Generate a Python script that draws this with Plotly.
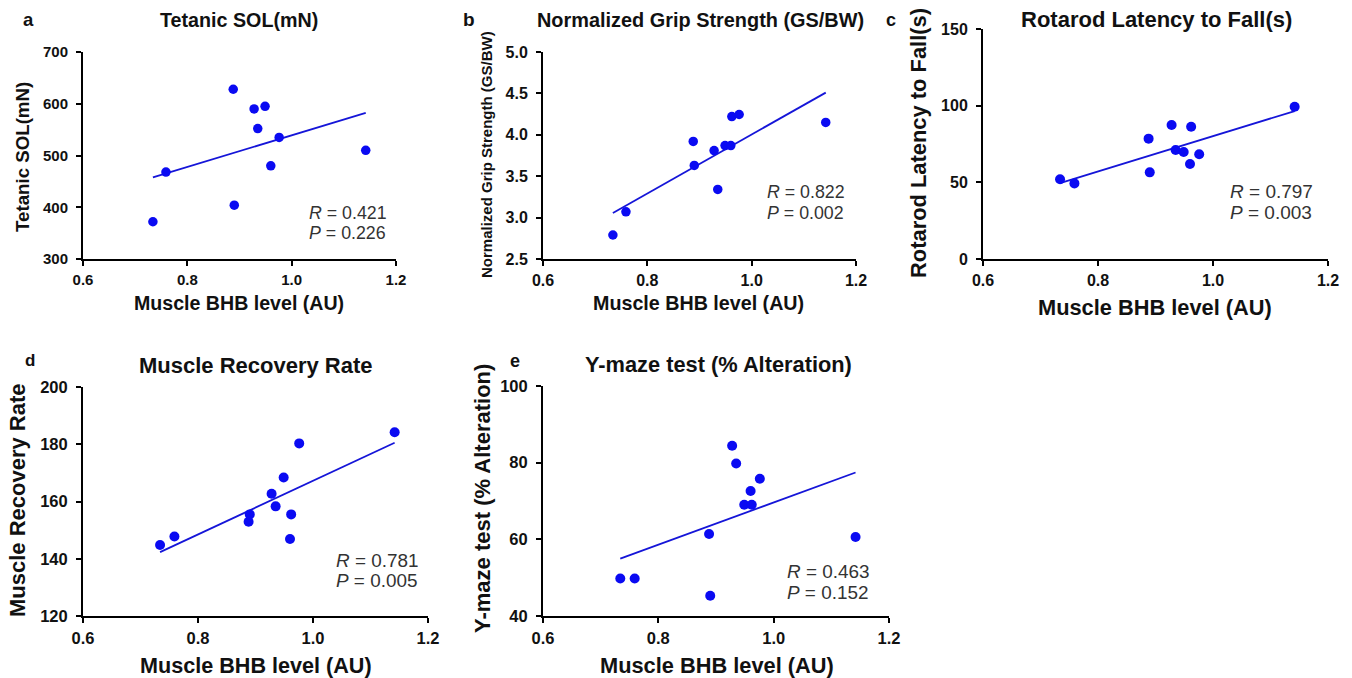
import numpy as np
import plotly.graph_objects as go

# ---------------- data ----------------
bhb = [0.734, 0.759, 0.888, 0.890, 0.928, 0.935, 0.949, 0.960, 0.962, 0.976, 1.142]
tetanic_sol = [372, 468, 628, 404, 590, 552, 595, 480, None, 535, 510]
grip_strength = [2.79, 3.07, 3.92, 3.63, 3.81, 3.34, 3.87, 3.87, 4.22, 4.245, 4.15]
rotarod = [52.0, 49.3, 78.5, 56.5, 87.4, 71.1, 69.8, 62.0, 86.3, 68.3, 99.3]
recovery = [144.8, 147.8, 152.9, 155.5, 162.7, 158.3, 168.4, 146.9, 155.5, 180.3, 184.2]
ymaze = [49.8, 49.8, 61.4, 45.3, 84.4, 79.8, 69.0, 72.6, 69.0, 75.8, 60.6]

series = [tetanic_sol, grip_strength, rotarod, recovery, ymaze]
panel_letters = ["a", "b", "c", "d", "e"]
panel_titles = ["Tetanic SOL(mN)", "Normalized Grip Strength (GS/BW)",
                "Rotarod Latency to Fall(s)", "Muscle Recovery Rate",
                "Y-maze test (% Alteration)"]
y_titles = ["Tetanic SOL(mN)", "Normalized Grip Strength (GS/BW)",
            "Rotarod Latency to Fall(s)", "Muscle Recovery Rate",
            "Y-maze test (% Alteration)"]
x_title = "Muscle BHB level (AU)"
r_values = ["0.421", "0.822", "0.797", "0.781", "0.463"]
p_values = ["0.226", "0.002", "0.003", "0.005", "0.152"]
y_ranges = [[300, 700], [2.5, 5.0], [0, 150], [120, 200], [40, 100]]
y_tickvals = [[300, 400, 500, 600, 700],
              [2.5, 3.0, 3.5, 4.0, 4.5, 5.0],
              [0, 50, 100, 150],
              [120, 140, 160, 180, 200],
              [40, 60, 80, 100]]
y_ticklabels = [["300", "400", "500", "600", "700"],
                ["2.5", "3.0", "3.5", "4.0", "4.5", "5.0"],
                ["0", "50", "100", "150"],
                ["120", "140", "160", "180", "200"],
                ["40", "60", "80", "100"]]
x_range = [0.6, 1.2]
x_tickvals = [0.6, 0.8, 1.0, 1.2]
x_ticklabels = ["0.6", "0.8", "1.0", "1.2"]

# ---------------- layout (pixels) ----------------
W, H = 1352, 678
# plot boxes: x0, x1, y_top, y_bottom
boxes = [(83, 396, 52, 259), (543, 856, 52, 259), (983, 1328, 29, 259),
         (83, 428, 387, 616), (543, 889, 386, 616)]
letter_pos = [(29, 19), (469, 20), (891, 20), (30, 360), (515, 361)]
letter_size = [18.5, 19, 18, 17, 18]
title_pos = [(239, 20), (700, 20), (1156, 20), (256, 365), (718, 364)]
title_size = [19.7, 19.9, 22, 22, 21.8]
xt_pos = [(239, 303), (699, 303), (1155, 307), (256, 665), (717, 665)]
xt_size = [19.6, 19.7, 21.8, 21.6, 21.8]
yt_pos = [(22, 157), (487, 155), (918, 143), (17, 500), (482, 499)]
yt_size = [18.7, 15, 21.9, 22, 22]
tick_size = [15, 16, 16, 16.5, 16.5]
marker_size = [9.5, 9.5, 10, 10, 10]
rp_size = [17.8, 17.8, 19, 18.9, 18.9]
rp_pos = [(307, 212.5, 232.5), (765, 192.5, 212.5), (1228, 191.5, 213),
          (334, 560, 580), (785, 571, 592.5)]

def px(x):
    return x / W

def py(y):
    return 1 - y / H

FONT = "Arial, Liberation Sans, Helvetica, sans-serif"
BLUE = "#0a0af2"
LINE_BLUE = "#1515d8"

fig = go.Figure()
annotations = []

for i, ys in enumerate(series):
    n = i + 1
    xa = "x" if n == 1 else f"x{n}"
    ya = "y" if n == 1 else f"y{n}"
    xs_valid = [x for x, y in zip(bhb, ys) if y is not None]
    ys_valid = [y for y in ys if y is not None]

    # regression line from data
    slope, intercept = np.polyfit(xs_valid, ys_valid, 1)
    lx = np.array([min(xs_valid), max(xs_valid)])
    fig.add_trace(go.Scatter(x=lx, y=slope * lx + intercept, mode="lines",
                             line=dict(color=LINE_BLUE, width=1.8),
                             xaxis=xa, yaxis=ya, showlegend=False, hoverinfo="skip"))
    fig.add_trace(go.Scatter(x=xs_valid, y=ys_valid, mode="markers",
                             marker=dict(color=BLUE, size=marker_size[i], line=dict(width=0)),
                             xaxis=xa, yaxis=ya, showlegend=False, cliponaxis=False))

    x0, x1, yt, yb = boxes[i]
    axis_common = dict(showgrid=False, zeroline=False, showline=True, linecolor="black",
                       linewidth=2, ticks="outside", ticklen=5, tickwidth=2, tickcolor="black",
                       automargin=False,
                       tickfont=dict(family=FONT, size=tick_size[i], color="#111", weight="bold"))
    fig.update_layout(**{
        ("xaxis" if n == 1 else f"xaxis{n}"): dict(
            domain=[px(x0), px(x1)], range=x_range, tickvals=x_tickvals,
            ticktext=[f"<b>{t}</b>" for t in x_ticklabels], ticklabelstandoff=1,
            anchor=ya, **axis_common),
        ("yaxis" if n == 1 else f"yaxis{n}"): dict(
            domain=[py(yb), py(yt)], range=y_ranges[i], tickvals=y_tickvals[i],
            ticktext=[f"<b>{t}</b>" for t in y_ticklabels[i]], ticklabelstandoff=5,
            anchor=xa, **axis_common),
    })

    lx_, ly_ = letter_pos[i]
    annotations.append(dict(text=f"<b>{panel_letters[i]}</b>", x=px(lx_), y=py(ly_), xref="paper",
                            yref="paper", showarrow=False, xanchor="center", yanchor="middle",
                            font=dict(family=FONT, size=letter_size[i], color="#111")))
    tx, ty = title_pos[i]
    annotations.append(dict(text=f"<b>{panel_titles[i]}</b>", x=px(tx), y=py(ty), xref="paper",
                            yref="paper", showarrow=False, xanchor="center", yanchor="middle",
                            font=dict(family=FONT, size=title_size[i], color="#111")))
    xtx, xty = xt_pos[i]
    annotations.append(dict(text=f"<b>{x_title}</b>", x=px(xtx), y=py(xty), xref="paper",
                            yref="paper", showarrow=False, xanchor="center", yanchor="middle",
                            font=dict(family=FONT, size=xt_size[i], color="#111")))
    ytx, yty = yt_pos[i]
    annotations.append(dict(text=f"<b>{y_titles[i]}</b>", x=px(ytx), y=py(yty), xref="paper",
                            yref="paper", showarrow=False, xanchor="center", yanchor="middle",
                            textangle=-90,
                            font=dict(family=FONT, size=yt_size[i], color="#111")))
    rx, ry, pyy = rp_pos[i]
    annotations.append(dict(text=f"<i>R</i> = {r_values[i]}", x=px(rx), y=py(ry), xref="paper",
                            yref="paper", showarrow=False, xanchor="left", yanchor="middle",
                            font=dict(family=FONT, size=rp_size[i], color="#333")))
    annotations.append(dict(text=f"<i>P</i> = {p_values[i]}", x=px(rx), y=py(pyy), xref="paper",
                            yref="paper", showarrow=False, xanchor="left", yanchor="middle",
                            font=dict(family=FONT, size=rp_size[i], color="#333")))

fig.update_layout(width=W, height=H, margin=dict(l=0, r=0, t=0, b=0, autoexpand=False),
                  paper_bgcolor="white", plot_bgcolor="white",
                  annotations=annotations, font=dict(family=FONT))

fig.write_html("out.html", config={"displayModeBar": False},
               post_script="document.body.style.margin='0';document.body.style.overflow='hidden';")
